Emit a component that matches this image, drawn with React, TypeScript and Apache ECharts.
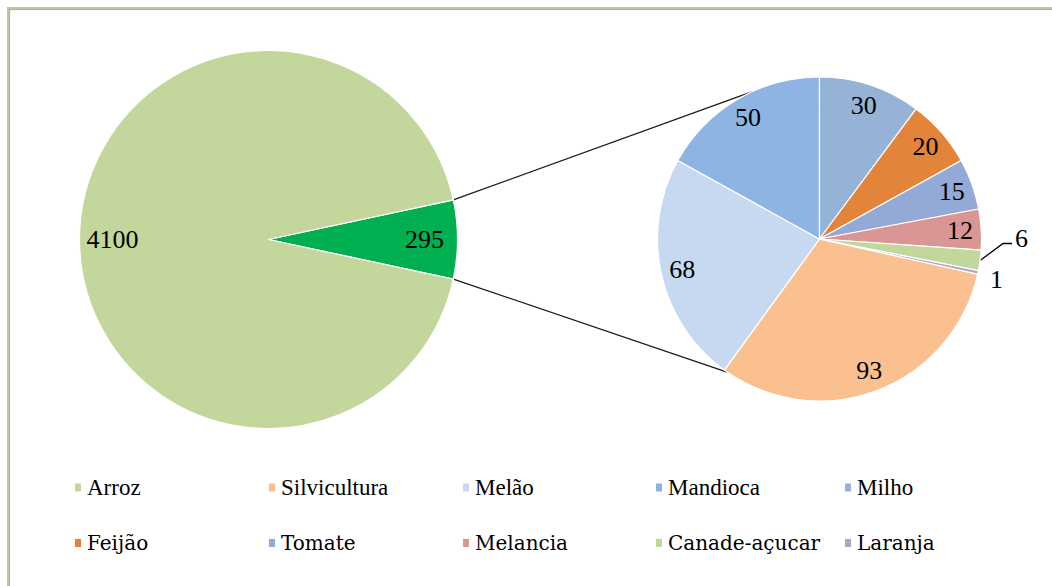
import React, { useEffect, useRef } from 'react';
import * as echarts from 'echarts';

// ---------- data ----------
const mainCategories = ['Arroz'];
const mainValues = [4100];
const otherName = 'Outros';
const detailCategories = ['Silvicultura', 'Melão', 'Mandioca', 'Milho', 'Feijão', 'Tomate', 'Melancia', 'Canade-açucar', 'Laranja'];
const detailValues = [93, 68, 50, 30, 20, 15, 12, 6, 1];
const legendRow1 = ['Arroz', 'Silvicultura', 'Melão', 'Mandioca', 'Milho'];
const legendRow2 = ['Feijão', 'Tomate', 'Melancia', 'Canade-açucar', 'Laranja'];

// ---------- style ----------
const COLORS: Record<string, string> = {
  Arroz: '#C3D69B',
  Outros: '#00B050',
  Silvicultura: '#FAC090',
  'Melão': '#C6D9F1',
  Mandioca: '#8DB4E2',
  Milho: '#95B3D7',
  'Feijão': '#E2853A',
  Tomate: '#93A9D6',
  Melancia: '#D99694',
  'Canade-açucar': '#C3D69B',
  Laranja: '#B3A2C7',
};
const W = 1052;
const H = 586;
const LC = [268.5, 239.5];
const R1 = 189;
const RC = [819.5, 239];
const R2 = 162;
const FIRST_IN_SECOND_TURN = 3;

export default function App() {
  const ref = useRef<HTMLDivElement>(null);
  useEffect(() => {
    if (!ref.current) return;
    const chart = echarts.init(ref.current, null, { renderer: 'svg' });
    const otherTotal = detailValues.reduce((a, b) => a + b, 0);
    const mainTotal = mainValues.reduce((a, b) => a + b, 0) + otherTotal;
    const half = ((otherTotal / mainTotal) * 360) / 2;
    const afterTop = detailValues.slice(FIRST_IN_SECOND_TURN).reduce((a, b) => a + b, 0);
    const rightStart = 360 + 90 - (afterTop / otherTotal) * 360;

    const mainData = [
      { name: otherName, value: otherTotal, itemStyle: { color: COLORS[otherName] } },
      ...mainCategories.map((n, i) => ({ name: n, value: mainValues[i], itemStyle: { color: COLORS[n] } })),
    ];
    const detailData = detailCategories.map((n, i) => ({ name: n, value: detailValues[i], itemStyle: { color: COLORS[n] } }));
    const canaIdx = detailCategories.indexOf('Canade-açucar');
    const laranjaIdx = detailCategories.indexOf('Laranja');

    const transparent = { color: 'rgba(0,0,0,0)', borderWidth: 0 };
    const rad = (d: number) => (d * Math.PI) / 180;
    const leftTop = [LC[0] + R1 * Math.cos(rad(half)), LC[1] - R1 * Math.sin(rad(half))];
    const leftBot = [LC[0] + R1 * Math.cos(rad(half)), LC[1] + R1 * Math.sin(rad(half))];
    const rightTop = [RC[0] - R2 * Math.sin(rad(24.5)), RC[1] - R2 * Math.cos(rad(24.5))];
    const rightBot = [RC[0] - R2 * Math.sin(rad(34.8)), RC[1] + R2 * Math.cos(rad(34.8))];

    const legendX = [73, 267, 461, 654, 843];
    const legendY = [488, 545];
    const legends: any[] = [];
    [legendRow1, legendRow2].forEach((row, r) => {
      row.forEach((name, c) => {
        legends.push({
          data: [name],
          left: legendX[c],
          top: legendY[r] - 12,
          padding: 0,
          itemGap: 0,
          itemWidth: 8,
          itemHeight: 10,
          icon: 'rect',
          selectedMode: false,
          textStyle: r === 0
            ? { fontFamily: 'Liberation Serif', fontSize: 23, color: '#000' }
            : { fontFamily: 'DejaVu Serif', fontSize: 20, color: '#000' },
        });
      });
    });

    chart.setOption({
      animation: false,
      backgroundColor: '#fff',
      legend: legends,
      graphic: [
        { type: 'line', shape: { x1: 7, y1: 8, x2: W, y2: 8 }, style: { stroke: '#C9C29F', lineWidth: 2 } },
        { type: 'line', shape: { x1: 9, y1: 9.6, x2: W, y2: 9.6 }, style: { stroke: '#A6A6A6', lineWidth: 1 } },
        { type: 'line', shape: { x1: 8, y1: 7, x2: 8, y2: H }, style: { stroke: '#C9C29F', lineWidth: 2 } },
        { type: 'line', shape: { x1: 9.6, y1: 9, x2: 9.6, y2: H }, style: { stroke: '#A6A6A6', lineWidth: 1 } },
        { type: 'line', shape: { x1: leftTop[0], y1: leftTop[1], x2: rightTop[0], y2: rightTop[1] }, style: { stroke: '#1a1a1a', lineWidth: 1.3 } },
        { type: 'line', shape: { x1: leftBot[0], y1: leftBot[1], x2: rightBot[0], y2: rightBot[1] }, style: { stroke: '#1a1a1a', lineWidth: 1.3 } },
      ],
      series: [
        {
          type: 'pie', name: 'main', center: LC, radius: R1, startAngle: half, clockwise: true,
          data: mainData, label: { show: false }, labelLine: { show: false }, silent: true,
          emphasis: { disabled: true }, itemStyle: { borderColor: '#fff', borderWidth: 1.2 },
        },
        {
          type: 'pie', name: 'mainLabels', center: LC, radius: [R1 * 0.62, R1], startAngle: half, clockwise: true,
          data: mainData.map((d) => ({ ...d, itemStyle: transparent })),
          label: { show: true, position: 'inside', formatter: '{c}', fontFamily: 'serif', fontSize: 26, color: '#000' },
          labelLine: { show: false },
          silent: true, emphasis: { disabled: true }, avoidLabelOverlap: false, legendHoverLink: false,
        },
        {
          type: 'pie', name: 'detail', center: RC, radius: R2, startAngle: rightStart, clockwise: true,
          data: detailData, label: { show: false }, labelLine: { show: false }, silent: true,
          emphasis: { disabled: true }, itemStyle: { borderColor: '#fff', borderWidth: 1.2 },
        },
        {
          type: 'pie', name: 'detailLabels', center: RC, radius: [R2 * 0.7, R2], startAngle: rightStart, clockwise: true,
          avoidLabelOverlap: false, silent: true, emphasis: { disabled: true }, legendHoverLink: false,
          label: { show: true, position: 'inside', formatter: '{c}', fontFamily: 'Times New Roman', fontSize: 26, color: '#000' },
          labelLine: { show: false },
          data: detailData.map((d, i) => {
            const item: any = { ...d, itemStyle: transparent };
            if (i === canaIdx) {
              item.label = { position: 'outside' };
              item.labelLine = { show: true, length: 6, length2: 6, lineStyle: { color: '#000', width: 1.3 } };
            } else if (i === laranjaIdx) {
              item.label = { position: 'outside' };
              item.labelLine = { show: false, length: 3, length2: 0 };
            }
            return item;
          }),
          labelLayout: (params: any) => {
            if (params.dataIndex === canaIdx && params.labelLinePoints) {
              const s = params.labelLinePoints[0];
              return {
                x: s[0] + 35, y: s[1] - 22, align: 'left', verticalAlign: 'middle',
                labelLinePoints: [s, [s[0] + 23, s[1] - 17], [s[0] + 32, s[1] - 17]],
              };
            }
            if (params.dataIndex === laranjaIdx) {
              return { dx: 4, dy: 6 };
            }
            return {};
          },
        },
      ],
    });
    return () => chart.dispose();
  }, []);
  return <div ref={ref} style={{ position: 'fixed', left: 0, top: 0, width: W, height: H, background: '#fff' }} />;
}
